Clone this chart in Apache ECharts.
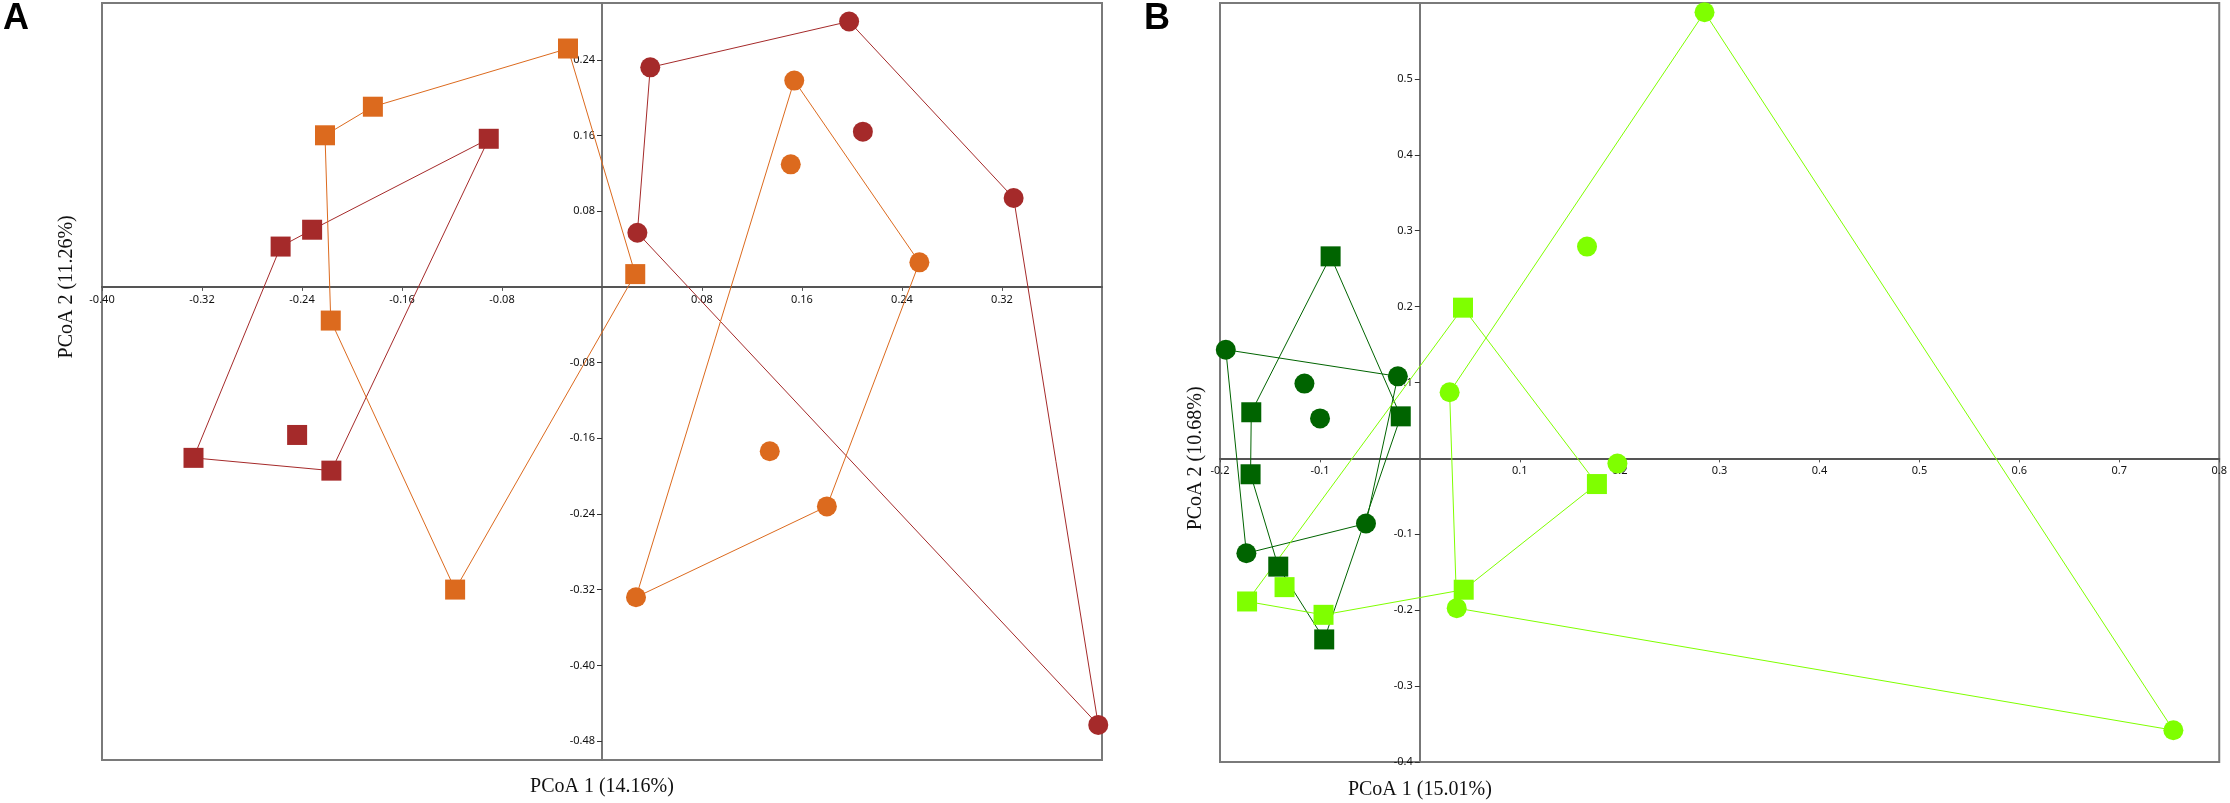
<!DOCTYPE html>
<html>
<head>
<meta charset="utf-8">
<script src="https://cdn.jsdelivr.net/npm/echarts@6/dist/echarts.min.js"></script>
<style>
html,body{margin:0;padding:0;background:#fff;}
#chart{width:2230px;height:803px;}
</style>
</head>
<body>
<div id="chart"></div>
<script>
// ---------- Panel A data (PCoA 1, PCoA 2) ----------
const aRedSquares = [[-0.0906,0.1565],[-0.2319,0.0604],[-0.2571,0.0426],[-0.3268,-0.1807],[-0.2439,-0.1565],[-0.2165,-0.1942]];
const aRedSquaresHull = [0,1,2,3,5];
const aOrangeSquares = [[-0.0272,0.2519],[-0.1833,0.1904],[-0.2216,0.1602],[-0.2170,-0.0356],[-0.1175,-0.3199],[0.0266,0.0135]];
const aOrangeSquaresHull = [0,1,2,3,4,5];
const aRedCircles = [[0.1977,0.2805],[0.0386,0.2320],[0.0283,0.0572],[0.2087,0.1640],[0.3293,0.0939],[0.3970,-0.4629]];
const aRedCirclesHull = [0,1,2,5,4];
const aOrangeCircles = [[0.1538,0.2180],[0.1510,0.1295],[0.2539,0.0259],[0.1342,-0.1737],[0.1799,-0.2320],[0.0272,-0.3280]];
const aOrangeCirclesHull = [0,2,4,5];

// ---------- Panel B data ----------
const bDarkSquares = [[-0.0893,0.2662],[-0.1687,0.0608],[-0.0191,0.0554],[-0.1694,-0.0209],[-0.1417,-0.1426],[-0.0957,-0.2385]];
const bDarkSquaresHull = [0,1,3,4,5,2];
const bDarkCircles = [[-0.1942,0.1432],[-0.0220,0.1081],[-0.1155,0.0986],[-0.0999,0.0527],[-0.0539,-0.0858],[-0.1736,-0.1250]];
const bDarkCirclesHull = [0,1,4,5];
const bLightSquares = [[0.0432,0.1986],[0.1772,-0.0338],[0.0439,-0.1730],[-0.0964,-0.2061],[-0.1354,-0.1696],[-0.1729,-0.1885]];
const bLightSquaresHull = [0,1,2,3,5];
const bLightCircles = [[0.2849,0.5878],[0.1673,0.2791],[0.0298,0.0872],[0.1977,-0.0068],[0.0369,-0.1973],[0.7541,-0.3581]];
const bLightCirclesHull = [0,5,4,2];

// ---------- Axis ticks ----------
const aXTicks = [-0.40,-0.32,-0.24,-0.16,-0.08,0.08,0.16,0.24,0.32];
const aYTicks = [-0.48,-0.40,-0.32,-0.24,-0.16,-0.08,0.08,0.16,0.24];
const bXTicks = [-0.2,-0.1,0.1,0.2,0.3,0.4,0.5,0.6,0.7,0.8];
const bYTicks = [-0.4,-0.3,-0.2,-0.1,0.1,0.2,0.3,0.4,0.5];
const aXTitle = 'PCoA 1 (14.16%)', aYTitle = 'PCoA 2 (11.26%)';
const bXTitle = 'PCoA 1 (15.01%)', bYTitle = 'PCoA 2 (10.68%)';

const C = {red:'#A52A2A', orange:'#DC6A1E', dark:'#006400', light:'#7FFF00'};

function ring(pts, order){ const r = order.map(i=>pts[i]); r.push(pts[order[0]]); return r; }

function groupSeries(pts, hull, color, symbol, gi){
  return [
    {type:'line', xAxisIndex:gi, yAxisIndex:gi, data:ring(pts,hull), symbol:'none', silent:true,
     lineStyle:{color:color,width:1}, z:2, animation:false},
    {type:'scatter', xAxisIndex:gi, yAxisIndex:gi, data:pts, symbol:symbol, symbolSize:20,
     itemStyle:{color:color,opacity:1}, z:3, animation:false}
  ];
}

const labelFont = {fontFamily:'Noto Sans', fontSize:11, color:'#111'};
function xAx(gi,min,max,ticks,dec){
  return {type:'value', gridIndex:gi, min:min, max:max, splitLine:{show:false}, position:'bottom',
    axisLine:{onZero:false, lineStyle:{color:'#555',width:2}},
    axisTick:{show:true, length:4, customValues:ticks, lineStyle:{color:'#555',width:1}},
    axisLabel:Object.assign({margin:7, customValues:ticks, showMinLabel:true, showMaxLabel:true,
      formatter:v=>v.toFixed(dec)}, labelFont)};
}
function yAx(gi,min,max,ticks,dec){
  return {type:'value', gridIndex:gi, min:min, max:max, splitLine:{show:false}, position:'left',
    axisLine:{onZero:false, lineStyle:{color:'#777',width:2}},
    axisTick:{show:true, length:5, customValues:ticks, lineStyle:{color:'#333',width:1}},
    axisLabel:Object.assign({margin:7, customValues:ticks, showMinLabel:true, showMaxLabel:true,
      formatter:v=>v.toFixed(dec)}, labelFont)};
}

const grids = [
  {left:102, top:3, width:1000, height:757},
  {left:1220, top:3, width:1000, height:759}
];

const chart = echarts.init(document.getElementById('chart'), null, {renderer:'canvas'});
const option = {
  backgroundColor:'#fff',
  animation:false,
  grid:grids.map(g=>Object.assign({show:true, borderColor:'#7a7a7a', borderWidth:2, containLabel:false}, g)),
  xAxis:[xAx(0,-0.40,0.40,aXTicks,2), xAx(1,-0.2,0.8,bXTicks,1)],
  yAxis:[yAx(0,-0.50,0.30,aYTicks,2), yAx(1,-0.4,0.6,bYTicks,1)],
  series:[].concat(
    groupSeries(aRedSquares,aRedSquaresHull,C.red,'rect',0),
    groupSeries(aOrangeSquares,aOrangeSquaresHull,C.orange,'rect',0),
    groupSeries(aRedCircles,aRedCirclesHull,C.red,'circle',0),
    groupSeries(aOrangeCircles,aOrangeCirclesHull,C.orange,'circle',0),
    groupSeries(bDarkSquares,bDarkSquaresHull,C.dark,'rect',1),
    groupSeries(bDarkCircles,bDarkCirclesHull,C.dark,'circle',1),
    groupSeries(bLightSquares,bLightSquaresHull,C.light,'rect',1),
    groupSeries(bLightCircles,bLightCirclesHull,C.light,'circle',1)
  )
};
chart.setOption(option);

// Move each axis onto the other axis' zero line (with labels), titles centred on zero lines
const z = [chart.convertToPixel({gridIndex:0},[0,0]), chart.convertToPixel({gridIndex:1},[0,0])];
const titleStyle = {fontFamily:'Liberation Serif', fontSize:20, fill:'#111', align:'center', verticalAlign:'middle'};
chart.setOption({
  xAxis:[0,1].map(i=>({offset: z[i][1] - (grids[i].top + grids[i].height)})),
  yAxis:[0,1].map(i=>({offset: grids[i].left - z[i][0]})),
  graphic:[
    {type:'text', x:z[0][0], y:787, style:Object.assign({text:aXTitle}, titleStyle)},
    {type:'text', x:67, y:z[0][1], rotation:Math.PI/2, style:Object.assign({text:aYTitle}, titleStyle)},
    {type:'text', x:z[1][0], y:790, style:Object.assign({text:bXTitle}, titleStyle)},
    {type:'text', x:1196, y:z[1][1], rotation:Math.PI/2, style:Object.assign({text:bYTitle}, titleStyle)},
    {type:'text', x:3, y:19, style:{text:'A', fontFamily:'Liberation Sans', fontWeight:'bold', fontSize:36, fill:'#000', align:'left', verticalAlign:'middle'}},
    {type:'text', x:1144, y:19, style:{text:'B', fontFamily:'Liberation Sans', fontWeight:'bold', fontSize:36, fill:'#000', align:'left', verticalAlign:'middle'}}
  ]
});
</script>
</body>
</html>
